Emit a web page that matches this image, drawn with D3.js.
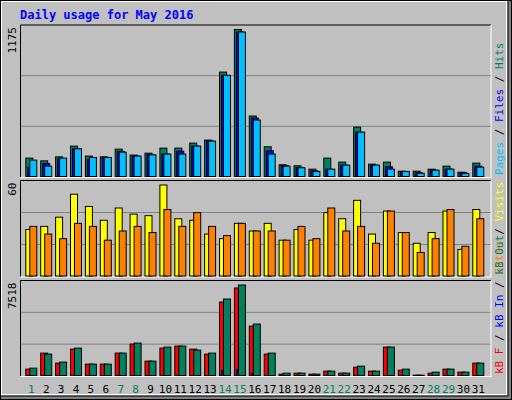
<!DOCTYPE html><html><head><meta charset="utf-8">
<script src="https://cdn.jsdelivr.net/npm/d3@7"></script>
<style>body{margin:0}svg{display:block}</style></head><body><svg id="c" width="512" height="400"></svg>
<script>
const days=d3.range(1,32);
const weekends=[1,7,8,14,15,21,22,28,29];
const hits=[154,132,164,249,170,164,225,178,193,233,233,273,297,837,1175,488,244,101,93,66,154,122,400,106,122,50,50,66,90,42,114];
const files=[80,111,148,228,143,159,207,170,180,186,209,249,289,811,1155,472,212,95,80,53,66,98,360,98,85,48,37,58,66,37,90];
const pages=[138,90,154,228,159,159,201,170,180,186,186,249,289,811,1155,456,186,90,77,48,66,98,360,98,66,48,34,58,66,32,82];
const visits=[31,33,39,54,46,37,45,41,40,60,38,37,28,25,35,30,35,24,31,24,42,38,50,28,43,29,22,29,43,18,44];
const sites=[33,28,25,35,33,24,30,33,29,44,33,42,33,27,35,30,30,24,33,25,45,30,33,22,43,29,16,25,44,20,38];
const kbF=[604,1921,1098,2250,1015,1015,1921,2662,1262,2332,2497,2250,1838,6119,7272,4143,1838,192,274,192,439,274,768,439,2415,521,110,274,604,357,1098];
const kbIn=[20,30,20,60,20,20,60,30,20,60,60,60,60,494,549,274,30,10,10,10,10,10,20,10,30,10,5,10,20,10,30];
const kbOut=[686,1838,1180,2332,1015,1015,1921,2744,1262,2415,2497,2168,1921,6366,7518,4308,1921,274,274,192,439,274,851,439,2415,604,110,357,604,357,1098];

const svg=d3.select("#c");
const F="'DejaVu Sans Mono',monospace";
svg.append("rect").attr("width",512).attr("height",400).attr("fill","#808080");
svg.append("rect").attr("x",0).attr("y",0).attr("width",508).attr("height",396).attr("fill","#c0c0c0").attr("stroke","#000");
svg.append("rect").attr("x",1.5).attr("y",1.5).attr("width",505).attr("height",393).attr("fill","none").attr("stroke","#fff");
svg.append("rect").attr("x",0.5).attr("y",0.5).attr("width",511).attr("height",399).attr("fill","none").attr("stroke","#000");
svg.append("text").attr("x",20).attr("y",19).attr("fill","#0000ff").attr("font-family",F).attr("font-size",12).attr("font-weight","bold").text("Daily usage for May 2016");

const x=d3.scaleLinear().domain([1,31]).range([25.3,472.3]);
function panel(y0,y1,max,series,label,legend){
  svg.append("line").attr("x1",20.5).attr("x2",491).attr("y1",y0).attr("y2",y0).attr("stroke","#000");
  svg.append("line").attr("x1",20.5).attr("x2",20.5).attr("y1",y0).attr("y2",y1).attr("stroke","#000");
  svg.append("line").attr("x1",491).attr("x2",491).attr("y1",y0).attr("y2",y1+1).attr("stroke","#fff");
  svg.append("line").attr("x1",20.5).attr("x2",491).attr("y1",y1+0.5).attr("y2",y1+0.5).attr("stroke","#fff");
  const y=d3.scaleLinear().domain([0,max]).range([y1,y0+4]);
  const h=y1-y0;
  [1/3,2/3].forEach(f=>svg.append("line").attr("x1",21).attr("x2",490.5).attr("y1",y0+h*f).attr("y2",y0+h*f).attr("stroke","#808080"));
  series.forEach(s=>{
    svg.append("g").selectAll("rect").data(s.data).join("rect")
      .attr("x",(d,i)=>x(i+1)+s.off+0.5).attr("y",d=>y(d)+0.5).attr("width",s.w)
      .attr("height",d=>Math.max(0,y1-y(d)-1)).attr("fill",s.color).attr("stroke","#000");
  });
  svg.append("text").attr("transform",`translate(16,${y0+2}) rotate(-90)`).attr("text-anchor","end")
    .attr("font-family",F).attr("font-size",11).text(label);
  const t=svg.append("text").attr("transform",`translate(503,${y1-2}) rotate(-90)`).attr("font-family",F).attr("font-size",11);
  legend.forEach(([s,c])=>t.append("tspan").attr("fill",c).text(s));
}
panel(25,177,1175,[{data:hits,off:0,w:7,color:"#00805c"},{data:files,off:2,w:7,color:"#0000ff"},{data:pages,off:4,w:7,color:"#00c0ff"}],"1175",
  [["Pages","#00c0ff"],[" / ","#000"],["Files","#0000ff"],[" / ","#000"],["Hits","#00805c"]]);
panel(180.5,276.5,60,[{data:visits,off:0,w:7,color:"#ffff00"},{data:sites,off:4,w:7,color:"#ff8000"}],"60",
  [["Sites","#ff8000"],[" / ","#000"],["Visits","#ffff00"]]);
panel(280.5,376,7518,[{data:kbF,off:0,w:7,color:"#ff0000"},{data:kbIn,off:2,w:2,color:"#0000ff"},{data:kbOut,off:4,w:7,color:"#00805c"}],"7518",
  [["kB F","#ff0000"],[" / ","#000"],["kB In","#0000ff"],[" / ","#000"],["kB Out","#00805c"]]);
svg.append("g").selectAll("text").data(days).join("text").attr("x",d=>x(d)+6).attr("y",393).attr("text-anchor","middle")
  .attr("font-family",F).attr("font-size",11).attr("fill",d=>weekends.includes(d)?"#00805c":"#000").text(d=>d);
</script></body></html>
